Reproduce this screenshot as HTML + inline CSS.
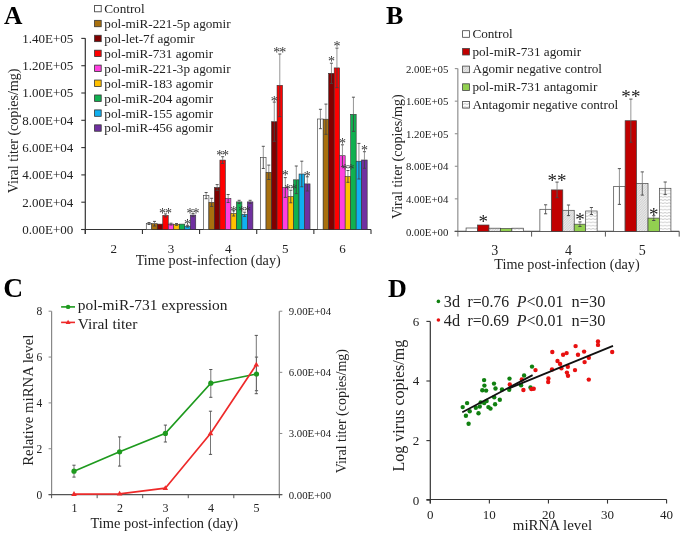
<!DOCTYPE html>
<html><head><meta charset="utf-8"><style>
html,body{margin:0;padding:0;background:#fff;}
svg{display:block;filter:blur(0.3px);}
text{font-family:"Liberation Serif", serif;}
</style></head><body>
<svg width="685" height="536" viewBox="0 0 685 536">
<rect width="685" height="536" fill="#fff"/>
<text x="4.0" y="24.4" font-size="25.5" text-anchor="start" font-weight="bold" fill="#000"  style="">A</text>
<line x1="85.3" y1="38.2" x2="85.3" y2="234.0" stroke="#333" stroke-width="1.2"/>
<line x1="81.3" y1="229.5" x2="85.3" y2="229.5" stroke="#333" stroke-width="1.1"/>
<text x="73.3" y="233.8" font-size="13" text-anchor="end" font-weight="normal" fill="#222"  style="">0.00E+00</text>
<line x1="81.3" y1="202.2" x2="85.3" y2="202.2" stroke="#333" stroke-width="1.1"/>
<text x="73.3" y="206.5" font-size="13" text-anchor="end" font-weight="normal" fill="#222"  style="">2.00E+04</text>
<line x1="81.3" y1="174.9" x2="85.3" y2="174.9" stroke="#333" stroke-width="1.1"/>
<text x="73.3" y="179.20000000000002" font-size="13" text-anchor="end" font-weight="normal" fill="#222"  style="">4.00E+04</text>
<line x1="81.3" y1="147.6" x2="85.3" y2="147.6" stroke="#333" stroke-width="1.1"/>
<text x="73.3" y="151.9" font-size="13" text-anchor="end" font-weight="normal" fill="#222"  style="">6.00E+04</text>
<line x1="81.3" y1="120.3" x2="85.3" y2="120.3" stroke="#333" stroke-width="1.1"/>
<text x="73.3" y="124.6" font-size="13" text-anchor="end" font-weight="normal" fill="#222"  style="">8.00E+04</text>
<line x1="81.3" y1="93.0" x2="85.3" y2="93.0" stroke="#333" stroke-width="1.1"/>
<text x="73.3" y="97.3" font-size="13" text-anchor="end" font-weight="normal" fill="#222"  style="">1.00E+05</text>
<line x1="81.3" y1="65.69999999999999" x2="85.3" y2="65.69999999999999" stroke="#333" stroke-width="1.1"/>
<text x="73.3" y="69.99999999999999" font-size="13" text-anchor="end" font-weight="normal" fill="#222"  style="">1.20E+05</text>
<line x1="81.3" y1="38.400000000000006" x2="85.3" y2="38.400000000000006" stroke="#333" stroke-width="1.1"/>
<text x="73.3" y="42.7" font-size="13" text-anchor="end" font-weight="normal" fill="#222"  style="">1.40E+05</text>
<line x1="81.3" y1="229.5" x2="371.0" y2="229.5" stroke="#333" stroke-width="1.2"/>
<line x1="85.3" y1="229.5" x2="85.3" y2="234.0" stroke="#333" stroke-width="1.1"/>
<line x1="142.44" y1="229.5" x2="142.44" y2="234.0" stroke="#333" stroke-width="1.1"/>
<line x1="199.57999999999998" y1="229.5" x2="199.57999999999998" y2="234.0" stroke="#333" stroke-width="1.1"/>
<line x1="256.72" y1="229.5" x2="256.72" y2="234.0" stroke="#333" stroke-width="1.1"/>
<line x1="313.86" y1="229.5" x2="313.86" y2="234.0" stroke="#333" stroke-width="1.1"/>
<line x1="371.0" y1="229.5" x2="371.0" y2="234.0" stroke="#333" stroke-width="1.1"/>
<text x="113.87" y="252.6" font-size="13" text-anchor="middle" font-weight="normal" fill="#222"  style="">2</text>
<text x="171.01" y="252.6" font-size="13" text-anchor="middle" font-weight="normal" fill="#222"  style="">3</text>
<text x="228.14999999999998" y="252.6" font-size="13" text-anchor="middle" font-weight="normal" fill="#222"  style="">4</text>
<text x="285.29" y="252.6" font-size="13" text-anchor="middle" font-weight="normal" fill="#222"  style="">5</text>
<text x="342.43" y="252.6" font-size="13" text-anchor="middle" font-weight="normal" fill="#222"  style="">6</text>
<text x="208.2" y="264.7" font-size="14.2" text-anchor="middle" font-weight="normal" fill="#222" textLength="145" lengthAdjust="spacingAndGlyphs"  style="">Time post-infection (day)</text>
<text x="0" y="0" font-size="14" text-anchor="middle" fill="#222" transform="translate(18.4,130.9) rotate(-90)" textLength="124.8" lengthAdjust="spacingAndGlyphs">Viral titer (copies/mg)</text>
<rect x="94.60" y="5.40" width="6.60" height="6.40" fill="#ffffff" stroke="#333" stroke-width="0.8"/>
<text x="104.3" y="13.0" font-size="13.2" text-anchor="start" font-weight="normal" fill="#222"  style="">Control</text>
<rect x="94.60" y="20.33" width="6.60" height="6.40" fill="#A8700E" stroke="#333" stroke-width="0.8"/>
<text x="104.3" y="27.93" font-size="13.2" text-anchor="start" font-weight="normal" fill="#222"  style="">pol-miR-221-5p agomir</text>
<rect x="94.60" y="35.26" width="6.60" height="6.40" fill="#800000" stroke="#333" stroke-width="0.8"/>
<text x="104.3" y="42.86" font-size="13.2" text-anchor="start" font-weight="normal" fill="#222"  style="">pol-let-7f agomir</text>
<rect x="94.60" y="50.19" width="6.60" height="6.40" fill="#FF0000" stroke="#333" stroke-width="0.8"/>
<text x="104.3" y="57.79" font-size="13.2" text-anchor="start" font-weight="normal" fill="#222"  style="">pol-miR-731 agomir</text>
<rect x="94.60" y="65.12" width="6.60" height="6.40" fill="#FF3FE0" stroke="#333" stroke-width="0.8"/>
<text x="104.3" y="72.72" font-size="13.2" text-anchor="start" font-weight="normal" fill="#222"  style="">pol-miR-221-3p agomir</text>
<rect x="94.60" y="80.05" width="6.60" height="6.40" fill="#FFC000" stroke="#333" stroke-width="0.8"/>
<text x="104.3" y="87.65" font-size="13.2" text-anchor="start" font-weight="normal" fill="#222"  style="">pol-miR-183 agomir</text>
<rect x="94.60" y="94.98" width="6.60" height="6.40" fill="#10B050" stroke="#333" stroke-width="0.8"/>
<text x="104.3" y="102.58" font-size="13.2" text-anchor="start" font-weight="normal" fill="#222"  style="">pol-miR-204 agomir</text>
<rect x="94.60" y="109.91" width="6.60" height="6.40" fill="#10B0F0" stroke="#333" stroke-width="0.8"/>
<text x="104.3" y="117.50999999999999" font-size="13.2" text-anchor="start" font-weight="normal" fill="#222"  style="">pol-miR-155 agomir</text>
<rect x="94.60" y="124.84" width="6.60" height="6.40" fill="#7030A0" stroke="#333" stroke-width="0.8"/>
<text x="104.3" y="132.44" font-size="13.2" text-anchor="start" font-weight="normal" fill="#222"  style="">pol-miR-456 agomir</text>
<rect x="146.26" y="223.50" width="5.50" height="6.00" fill="#ffffff" stroke="#333" stroke-width="0.6"/>
<rect x="151.76" y="223.70" width="5.50" height="5.80" fill="#A8700E" stroke="#333" stroke-width="0.6"/>
<rect x="157.26" y="224.10" width="5.50" height="5.40" fill="#800000" stroke="#333" stroke-width="0.6"/>
<rect x="162.76" y="215.40" width="5.50" height="14.10" fill="#FF0000" stroke="#333" stroke-width="0.6"/>
<rect x="168.26" y="224.10" width="5.50" height="5.40" fill="#FF3FE0" stroke="#333" stroke-width="0.6"/>
<rect x="173.76" y="224.40" width="5.50" height="5.10" fill="#FFC000" stroke="#333" stroke-width="0.6"/>
<rect x="179.26" y="224.10" width="5.50" height="5.40" fill="#10B050" stroke="#333" stroke-width="0.6"/>
<rect x="184.76" y="226.20" width="5.50" height="3.30" fill="#10B0F0" stroke="#333" stroke-width="0.6"/>
<rect x="190.26" y="215.10" width="5.50" height="14.40" fill="#7030A0" stroke="#333" stroke-width="0.6"/>
<line x1="149.01" y1="222.5" x2="149.01" y2="223.5" stroke="#8a8a8a" stroke-width="0.9"/>
<line x1="149.01" y1="223.5" x2="149.01" y2="224.5" stroke="#444" stroke-width="0.9"/>
<line x1="147.51" y1="222.5" x2="150.51" y2="222.5" stroke="#444" stroke-width="0.9"/>
<line x1="147.51" y1="224.5" x2="150.51" y2="224.5" stroke="#444" stroke-width="0.9"/>
<line x1="154.51" y1="221.4" x2="154.51" y2="223.7" stroke="#8a8a8a" stroke-width="0.9"/>
<line x1="154.51" y1="223.7" x2="154.51" y2="225.99999999999997" stroke="#444" stroke-width="0.9"/>
<line x1="153.01" y1="221.4" x2="156.01" y2="221.4" stroke="#444" stroke-width="0.9"/>
<line x1="153.01" y1="225.99999999999997" x2="156.01" y2="225.99999999999997" stroke="#444" stroke-width="0.9"/>
<line x1="165.51" y1="213.9" x2="165.51" y2="215.4" stroke="#8a8a8a" stroke-width="0.9"/>
<line x1="165.51" y1="215.4" x2="165.51" y2="216.9" stroke="#444" stroke-width="0.9"/>
<line x1="164.01" y1="213.9" x2="167.01" y2="213.9" stroke="#444" stroke-width="0.9"/>
<line x1="164.01" y1="216.9" x2="167.01" y2="216.9" stroke="#444" stroke-width="0.9"/>
<line x1="171.01" y1="223.2" x2="171.01" y2="224.1" stroke="#8a8a8a" stroke-width="0.9"/>
<line x1="171.01" y1="224.1" x2="171.01" y2="225.0" stroke="#444" stroke-width="0.9"/>
<line x1="169.51" y1="223.2" x2="172.51" y2="223.2" stroke="#444" stroke-width="0.9"/>
<line x1="169.51" y1="225.0" x2="172.51" y2="225.0" stroke="#444" stroke-width="0.9"/>
<line x1="176.51" y1="223.5" x2="176.51" y2="224.4" stroke="#8a8a8a" stroke-width="0.9"/>
<line x1="176.51" y1="224.4" x2="176.51" y2="225.3" stroke="#444" stroke-width="0.9"/>
<line x1="175.01" y1="223.5" x2="178.01" y2="223.5" stroke="#444" stroke-width="0.9"/>
<line x1="175.01" y1="225.3" x2="178.01" y2="225.3" stroke="#444" stroke-width="0.9"/>
<line x1="187.51" y1="225.3" x2="187.51" y2="226.2" stroke="#8a8a8a" stroke-width="0.9"/>
<line x1="187.51" y1="226.2" x2="187.51" y2="227.09999999999997" stroke="#444" stroke-width="0.9"/>
<line x1="186.01" y1="225.3" x2="189.01" y2="225.3" stroke="#444" stroke-width="0.9"/>
<line x1="186.01" y1="227.09999999999997" x2="189.01" y2="227.09999999999997" stroke="#444" stroke-width="0.9"/>
<line x1="193.01" y1="213.6" x2="193.01" y2="215.1" stroke="#8a8a8a" stroke-width="0.9"/>
<line x1="193.01" y1="215.1" x2="193.01" y2="216.6" stroke="#444" stroke-width="0.9"/>
<line x1="191.51" y1="213.6" x2="194.51" y2="213.6" stroke="#444" stroke-width="0.9"/>
<line x1="191.51" y1="216.6" x2="194.51" y2="216.6" stroke="#444" stroke-width="0.9"/>
<rect x="203.40" y="195.60" width="5.50" height="33.90" fill="#ffffff" stroke="#333" stroke-width="0.6"/>
<rect x="208.90" y="202.40" width="5.50" height="27.10" fill="#A8700E" stroke="#333" stroke-width="0.6"/>
<rect x="214.40" y="187.50" width="5.50" height="42.00" fill="#800000" stroke="#333" stroke-width="0.6"/>
<rect x="219.90" y="160.10" width="5.50" height="69.40" fill="#FF0000" stroke="#333" stroke-width="0.6"/>
<rect x="225.40" y="198.50" width="5.50" height="31.00" fill="#FF3FE0" stroke="#333" stroke-width="0.6"/>
<rect x="230.90" y="213.40" width="5.50" height="16.10" fill="#FFC000" stroke="#333" stroke-width="0.6"/>
<rect x="236.40" y="201.90" width="5.50" height="27.60" fill="#10B050" stroke="#333" stroke-width="0.6"/>
<rect x="241.90" y="214.30" width="5.50" height="15.20" fill="#10B0F0" stroke="#333" stroke-width="0.6"/>
<rect x="247.40" y="201.90" width="5.50" height="27.60" fill="#7030A0" stroke="#333" stroke-width="0.6"/>
<line x1="206.14999999999998" y1="192.5" x2="206.14999999999998" y2="195.6" stroke="#8a8a8a" stroke-width="0.9"/>
<line x1="206.14999999999998" y1="195.6" x2="206.14999999999998" y2="198.7" stroke="#444" stroke-width="0.9"/>
<line x1="204.64999999999998" y1="192.5" x2="207.64999999999998" y2="192.5" stroke="#444" stroke-width="0.9"/>
<line x1="204.64999999999998" y1="198.7" x2="207.64999999999998" y2="198.7" stroke="#444" stroke-width="0.9"/>
<line x1="211.64999999999998" y1="198.3" x2="211.64999999999998" y2="202.4" stroke="#8a8a8a" stroke-width="0.9"/>
<line x1="211.64999999999998" y1="202.4" x2="211.64999999999998" y2="206.5" stroke="#444" stroke-width="0.9"/>
<line x1="210.14999999999998" y1="198.3" x2="213.14999999999998" y2="198.3" stroke="#444" stroke-width="0.9"/>
<line x1="210.14999999999998" y1="206.5" x2="213.14999999999998" y2="206.5" stroke="#444" stroke-width="0.9"/>
<line x1="217.14999999999998" y1="184.6" x2="217.14999999999998" y2="187.5" stroke="#8a8a8a" stroke-width="0.9"/>
<line x1="217.14999999999998" y1="187.5" x2="217.14999999999998" y2="190.4" stroke="#444" stroke-width="0.9"/>
<line x1="215.64999999999998" y1="184.6" x2="218.64999999999998" y2="184.6" stroke="#444" stroke-width="0.9"/>
<line x1="215.64999999999998" y1="190.4" x2="218.64999999999998" y2="190.4" stroke="#444" stroke-width="0.9"/>
<line x1="222.64999999999998" y1="156.7" x2="222.64999999999998" y2="160.1" stroke="#8a8a8a" stroke-width="0.9"/>
<line x1="222.64999999999998" y1="160.1" x2="222.64999999999998" y2="163.5" stroke="#444" stroke-width="0.9"/>
<line x1="221.14999999999998" y1="156.7" x2="224.14999999999998" y2="156.7" stroke="#444" stroke-width="0.9"/>
<line x1="221.14999999999998" y1="163.5" x2="224.14999999999998" y2="163.5" stroke="#444" stroke-width="0.9"/>
<line x1="228.14999999999998" y1="194.5" x2="228.14999999999998" y2="198.5" stroke="#8a8a8a" stroke-width="0.9"/>
<line x1="228.14999999999998" y1="198.5" x2="228.14999999999998" y2="202.5" stroke="#444" stroke-width="0.9"/>
<line x1="226.64999999999998" y1="194.5" x2="229.64999999999998" y2="194.5" stroke="#444" stroke-width="0.9"/>
<line x1="226.64999999999998" y1="202.5" x2="229.64999999999998" y2="202.5" stroke="#444" stroke-width="0.9"/>
<line x1="233.64999999999998" y1="210.8" x2="233.64999999999998" y2="213.4" stroke="#8a8a8a" stroke-width="0.9"/>
<line x1="233.64999999999998" y1="213.4" x2="233.64999999999998" y2="216.0" stroke="#444" stroke-width="0.9"/>
<line x1="232.14999999999998" y1="210.8" x2="235.14999999999998" y2="210.8" stroke="#444" stroke-width="0.9"/>
<line x1="232.14999999999998" y1="216.0" x2="235.14999999999998" y2="216.0" stroke="#444" stroke-width="0.9"/>
<line x1="239.14999999999998" y1="200.3" x2="239.14999999999998" y2="201.9" stroke="#8a8a8a" stroke-width="0.9"/>
<line x1="239.14999999999998" y1="201.9" x2="239.14999999999998" y2="203.5" stroke="#444" stroke-width="0.9"/>
<line x1="237.64999999999998" y1="200.3" x2="240.64999999999998" y2="200.3" stroke="#444" stroke-width="0.9"/>
<line x1="237.64999999999998" y1="203.5" x2="240.64999999999998" y2="203.5" stroke="#444" stroke-width="0.9"/>
<line x1="244.64999999999998" y1="212.2" x2="244.64999999999998" y2="214.3" stroke="#8a8a8a" stroke-width="0.9"/>
<line x1="244.64999999999998" y1="214.3" x2="244.64999999999998" y2="216.40000000000003" stroke="#444" stroke-width="0.9"/>
<line x1="243.14999999999998" y1="212.2" x2="246.14999999999998" y2="212.2" stroke="#444" stroke-width="0.9"/>
<line x1="243.14999999999998" y1="216.40000000000003" x2="246.14999999999998" y2="216.40000000000003" stroke="#444" stroke-width="0.9"/>
<line x1="250.14999999999998" y1="200.3" x2="250.14999999999998" y2="201.9" stroke="#8a8a8a" stroke-width="0.9"/>
<line x1="250.14999999999998" y1="201.9" x2="250.14999999999998" y2="203.5" stroke="#444" stroke-width="0.9"/>
<line x1="248.64999999999998" y1="200.3" x2="251.64999999999998" y2="200.3" stroke="#444" stroke-width="0.9"/>
<line x1="248.64999999999998" y1="203.5" x2="251.64999999999998" y2="203.5" stroke="#444" stroke-width="0.9"/>
<rect x="260.54" y="157.40" width="5.50" height="72.10" fill="#ffffff" stroke="#333" stroke-width="0.6"/>
<rect x="266.04" y="172.30" width="5.50" height="57.20" fill="#A8700E" stroke="#333" stroke-width="0.6"/>
<rect x="271.54" y="121.70" width="5.50" height="107.80" fill="#800000" stroke="#333" stroke-width="0.6"/>
<rect x="277.04" y="85.30" width="5.50" height="144.20" fill="#FF0000" stroke="#333" stroke-width="0.6"/>
<rect x="282.54" y="187.50" width="5.50" height="42.00" fill="#FF3FE0" stroke="#333" stroke-width="0.6"/>
<rect x="288.04" y="196.50" width="5.50" height="33.00" fill="#FFC000" stroke="#333" stroke-width="0.6"/>
<rect x="293.54" y="179.80" width="5.50" height="49.70" fill="#10B050" stroke="#333" stroke-width="0.6"/>
<rect x="299.04" y="174.00" width="5.50" height="55.50" fill="#10B0F0" stroke="#333" stroke-width="0.6"/>
<rect x="304.54" y="183.90" width="5.50" height="45.60" fill="#7030A0" stroke="#333" stroke-width="0.6"/>
<line x1="263.29" y1="146.3" x2="263.29" y2="157.4" stroke="#8a8a8a" stroke-width="0.9"/>
<line x1="263.29" y1="157.4" x2="263.29" y2="168.5" stroke="#444" stroke-width="0.9"/>
<line x1="261.79" y1="146.3" x2="264.79" y2="146.3" stroke="#444" stroke-width="0.9"/>
<line x1="261.79" y1="168.5" x2="264.79" y2="168.5" stroke="#444" stroke-width="0.9"/>
<line x1="268.79" y1="165.1" x2="268.79" y2="172.3" stroke="#8a8a8a" stroke-width="0.9"/>
<line x1="268.79" y1="172.3" x2="268.79" y2="179.50000000000003" stroke="#444" stroke-width="0.9"/>
<line x1="267.29" y1="165.1" x2="270.29" y2="165.1" stroke="#444" stroke-width="0.9"/>
<line x1="267.29" y1="179.50000000000003" x2="270.29" y2="179.50000000000003" stroke="#444" stroke-width="0.9"/>
<line x1="274.29" y1="102.1" x2="274.29" y2="121.7" stroke="#8a8a8a" stroke-width="0.9"/>
<line x1="274.29" y1="121.7" x2="274.29" y2="141.3" stroke="#444" stroke-width="0.9"/>
<line x1="272.79" y1="102.1" x2="275.79" y2="102.1" stroke="#444" stroke-width="0.9"/>
<line x1="272.79" y1="141.3" x2="275.79" y2="141.3" stroke="#444" stroke-width="0.9"/>
<line x1="279.79" y1="54.0" x2="279.79" y2="85.3" stroke="#8a8a8a" stroke-width="0.9"/>
<line x1="279.79" y1="85.3" x2="279.79" y2="116.6" stroke="#444" stroke-width="0.9"/>
<line x1="278.29" y1="54.0" x2="281.29" y2="54.0" stroke="#444" stroke-width="0.9"/>
<line x1="278.29" y1="116.6" x2="281.29" y2="116.6" stroke="#444" stroke-width="0.9"/>
<line x1="285.29" y1="177.6" x2="285.29" y2="187.5" stroke="#8a8a8a" stroke-width="0.9"/>
<line x1="285.29" y1="187.5" x2="285.29" y2="197.4" stroke="#444" stroke-width="0.9"/>
<line x1="283.79" y1="177.6" x2="286.79" y2="177.6" stroke="#444" stroke-width="0.9"/>
<line x1="283.79" y1="197.4" x2="286.79" y2="197.4" stroke="#444" stroke-width="0.9"/>
<line x1="290.79" y1="190.2" x2="290.79" y2="196.5" stroke="#8a8a8a" stroke-width="0.9"/>
<line x1="290.79" y1="196.5" x2="290.79" y2="202.8" stroke="#444" stroke-width="0.9"/>
<line x1="289.29" y1="190.2" x2="292.29" y2="190.2" stroke="#444" stroke-width="0.9"/>
<line x1="289.29" y1="202.8" x2="292.29" y2="202.8" stroke="#444" stroke-width="0.9"/>
<line x1="296.29" y1="166.0" x2="296.29" y2="179.8" stroke="#8a8a8a" stroke-width="0.9"/>
<line x1="296.29" y1="179.8" x2="296.29" y2="193.60000000000002" stroke="#444" stroke-width="0.9"/>
<line x1="294.79" y1="166.0" x2="297.79" y2="166.0" stroke="#444" stroke-width="0.9"/>
<line x1="294.79" y1="193.60000000000002" x2="297.79" y2="193.60000000000002" stroke="#444" stroke-width="0.9"/>
<line x1="301.79" y1="161.2" x2="301.79" y2="174.0" stroke="#8a8a8a" stroke-width="0.9"/>
<line x1="301.79" y1="174.0" x2="301.79" y2="186.8" stroke="#444" stroke-width="0.9"/>
<line x1="300.29" y1="161.2" x2="303.29" y2="161.2" stroke="#444" stroke-width="0.9"/>
<line x1="300.29" y1="186.8" x2="303.29" y2="186.8" stroke="#444" stroke-width="0.9"/>
<line x1="307.29" y1="176.8" x2="307.29" y2="183.9" stroke="#8a8a8a" stroke-width="0.9"/>
<line x1="307.29" y1="183.9" x2="307.29" y2="191.0" stroke="#444" stroke-width="0.9"/>
<line x1="305.79" y1="176.8" x2="308.79" y2="176.8" stroke="#444" stroke-width="0.9"/>
<line x1="305.79" y1="191.0" x2="308.79" y2="191.0" stroke="#444" stroke-width="0.9"/>
<rect x="317.68" y="119.00" width="5.50" height="110.50" fill="#ffffff" stroke="#333" stroke-width="0.6"/>
<rect x="323.18" y="119.20" width="5.50" height="110.30" fill="#A8700E" stroke="#333" stroke-width="0.6"/>
<rect x="328.68" y="73.30" width="5.50" height="156.20" fill="#800000" stroke="#333" stroke-width="0.6"/>
<rect x="334.18" y="67.90" width="5.50" height="161.60" fill="#FF0000" stroke="#333" stroke-width="0.6"/>
<rect x="339.68" y="155.70" width="5.50" height="73.80" fill="#FF3FE0" stroke="#333" stroke-width="0.6"/>
<rect x="345.18" y="176.40" width="5.50" height="53.10" fill="#FFC000" stroke="#333" stroke-width="0.6"/>
<rect x="350.68" y="114.30" width="5.50" height="115.20" fill="#10B050" stroke="#333" stroke-width="0.6"/>
<rect x="356.18" y="161.20" width="5.50" height="68.30" fill="#10B0F0" stroke="#333" stroke-width="0.6"/>
<rect x="361.68" y="160.00" width="5.50" height="69.50" fill="#7030A0" stroke="#333" stroke-width="0.6"/>
<line x1="320.43" y1="109.3" x2="320.43" y2="119.0" stroke="#8a8a8a" stroke-width="0.9"/>
<line x1="320.43" y1="119.0" x2="320.43" y2="128.7" stroke="#444" stroke-width="0.9"/>
<line x1="318.93" y1="109.3" x2="321.93" y2="109.3" stroke="#444" stroke-width="0.9"/>
<line x1="318.93" y1="128.7" x2="321.93" y2="128.7" stroke="#444" stroke-width="0.9"/>
<line x1="325.93" y1="104.1" x2="325.93" y2="119.2" stroke="#8a8a8a" stroke-width="0.9"/>
<line x1="325.93" y1="119.2" x2="325.93" y2="134.3" stroke="#444" stroke-width="0.9"/>
<line x1="324.43" y1="104.1" x2="327.43" y2="104.1" stroke="#444" stroke-width="0.9"/>
<line x1="324.43" y1="134.3" x2="327.43" y2="134.3" stroke="#444" stroke-width="0.9"/>
<line x1="331.43" y1="63.2" x2="331.43" y2="73.3" stroke="#8a8a8a" stroke-width="0.9"/>
<line x1="331.43" y1="73.3" x2="331.43" y2="83.39999999999999" stroke="#444" stroke-width="0.9"/>
<line x1="329.93" y1="63.2" x2="332.93" y2="63.2" stroke="#444" stroke-width="0.9"/>
<line x1="329.93" y1="83.39999999999999" x2="332.93" y2="83.39999999999999" stroke="#444" stroke-width="0.9"/>
<line x1="336.93" y1="48.1" x2="336.93" y2="67.9" stroke="#8a8a8a" stroke-width="0.9"/>
<line x1="336.93" y1="67.9" x2="336.93" y2="87.70000000000002" stroke="#444" stroke-width="0.9"/>
<line x1="335.43" y1="48.1" x2="338.43" y2="48.1" stroke="#444" stroke-width="0.9"/>
<line x1="335.43" y1="87.70000000000002" x2="338.43" y2="87.70000000000002" stroke="#444" stroke-width="0.9"/>
<line x1="342.43" y1="144.8" x2="342.43" y2="155.7" stroke="#8a8a8a" stroke-width="0.9"/>
<line x1="342.43" y1="155.7" x2="342.43" y2="166.59999999999997" stroke="#444" stroke-width="0.9"/>
<line x1="340.93" y1="144.8" x2="343.93" y2="144.8" stroke="#444" stroke-width="0.9"/>
<line x1="340.93" y1="166.59999999999997" x2="343.93" y2="166.59999999999997" stroke="#444" stroke-width="0.9"/>
<line x1="347.93" y1="170.5" x2="347.93" y2="176.4" stroke="#8a8a8a" stroke-width="0.9"/>
<line x1="347.93" y1="176.4" x2="347.93" y2="182.3" stroke="#444" stroke-width="0.9"/>
<line x1="346.43" y1="170.5" x2="349.43" y2="170.5" stroke="#444" stroke-width="0.9"/>
<line x1="346.43" y1="182.3" x2="349.43" y2="182.3" stroke="#444" stroke-width="0.9"/>
<line x1="353.43" y1="97.2" x2="353.43" y2="114.3" stroke="#8a8a8a" stroke-width="0.9"/>
<line x1="353.43" y1="114.3" x2="353.43" y2="131.39999999999998" stroke="#444" stroke-width="0.9"/>
<line x1="351.93" y1="97.2" x2="354.93" y2="97.2" stroke="#444" stroke-width="0.9"/>
<line x1="351.93" y1="131.39999999999998" x2="354.93" y2="131.39999999999998" stroke="#444" stroke-width="0.9"/>
<line x1="358.93" y1="143.4" x2="358.93" y2="161.2" stroke="#8a8a8a" stroke-width="0.9"/>
<line x1="358.93" y1="161.2" x2="358.93" y2="178.99999999999997" stroke="#444" stroke-width="0.9"/>
<line x1="357.43" y1="143.4" x2="360.43" y2="143.4" stroke="#444" stroke-width="0.9"/>
<line x1="357.43" y1="178.99999999999997" x2="360.43" y2="178.99999999999997" stroke="#444" stroke-width="0.9"/>
<line x1="364.43" y1="151.7" x2="364.43" y2="160.0" stroke="#8a8a8a" stroke-width="0.9"/>
<line x1="364.43" y1="160.0" x2="364.43" y2="168.3" stroke="#444" stroke-width="0.9"/>
<line x1="362.93" y1="151.7" x2="365.93" y2="151.7" stroke="#444" stroke-width="0.9"/>
<line x1="362.93" y1="168.3" x2="365.93" y2="168.3" stroke="#444" stroke-width="0.9"/>
<text x="162.56" y="217.8" font-size="14" text-anchor="middle" font-weight="normal" fill="#333"  style="">*</text>
<text x="168.45999999999998" y="217.8" font-size="14" text-anchor="middle" font-weight="normal" fill="#333"  style="">*</text>
<text x="187.51" y="228.5" font-size="14" text-anchor="middle" font-weight="normal" fill="#333"  style="">*</text>
<text x="190.06" y="217.5" font-size="14" text-anchor="middle" font-weight="normal" fill="#333"  style="">*</text>
<text x="195.95999999999998" y="217.5" font-size="14" text-anchor="middle" font-weight="normal" fill="#333"  style="">*</text>
<text x="219.7" y="160.0" font-size="14" text-anchor="middle" font-weight="normal" fill="#333"  style="">*</text>
<text x="225.59999999999997" y="160.0" font-size="14" text-anchor="middle" font-weight="normal" fill="#333"  style="">*</text>
<text x="233.64999999999998" y="215.6" font-size="14" text-anchor="middle" font-weight="normal" fill="#333"  style="">*</text>
<text x="241.7" y="216.3" font-size="14" text-anchor="middle" font-weight="normal" fill="#333"  style="">*</text>
<text x="247.59999999999997" y="216.3" font-size="14" text-anchor="middle" font-weight="normal" fill="#333"  style="">*</text>
<text x="274.29" y="106.4" font-size="14" text-anchor="middle" font-weight="normal" fill="#333"  style="">*</text>
<text x="276.84000000000003" y="57.2" font-size="14" text-anchor="middle" font-weight="normal" fill="#333"  style="">*</text>
<text x="282.74" y="57.2" font-size="14" text-anchor="middle" font-weight="normal" fill="#333"  style="">*</text>
<text x="285.29" y="180.0" font-size="14" text-anchor="middle" font-weight="normal" fill="#333"  style="">*</text>
<text x="287.84000000000003" y="193.7" font-size="14" text-anchor="middle" font-weight="normal" fill="#333"  style="">*</text>
<text x="293.74" y="193.7" font-size="14" text-anchor="middle" font-weight="normal" fill="#333"  style="">*</text>
<text x="307.29" y="180.6" font-size="14" text-anchor="middle" font-weight="normal" fill="#333"  style="">*</text>
<text x="331.43" y="65.9" font-size="14" text-anchor="middle" font-weight="normal" fill="#333"  style="">*</text>
<text x="336.93" y="51.2" font-size="14" text-anchor="middle" font-weight="normal" fill="#333"  style="">*</text>
<text x="342.43" y="148.3" font-size="14" text-anchor="middle" font-weight="normal" fill="#333"  style="">*</text>
<text x="344.98" y="173.5" font-size="14" text-anchor="middle" font-weight="normal" fill="#333"  style="">*</text>
<text x="350.88" y="173.5" font-size="14" text-anchor="middle" font-weight="normal" fill="#333"  style="">*</text>
<text x="364.43" y="154.8" font-size="14" text-anchor="middle" font-weight="normal" fill="#333"  style="">*</text>
<text x="386.0" y="23.8" font-size="26" text-anchor="start" font-weight="bold" fill="#000"  style="">B</text>
<line x1="457.8" y1="68.5" x2="457.8" y2="236.6" stroke="#A0A0A0" stroke-width="1.4"/>
<line x1="454.8" y1="231.4" x2="457.8" y2="231.4" stroke="#909090" stroke-width="1.1"/>
<text x="448.3" y="235.6" font-size="10.8" text-anchor="end" font-weight="normal" fill="#222"  style="">0.00E+00</text>
<line x1="454.8" y1="198.84" x2="457.8" y2="198.84" stroke="#909090" stroke-width="1.1"/>
<text x="448.3" y="203.04" font-size="10.8" text-anchor="end" font-weight="normal" fill="#222"  style="">4.00E+04</text>
<line x1="454.8" y1="166.28" x2="457.8" y2="166.28" stroke="#909090" stroke-width="1.1"/>
<text x="448.3" y="170.48" font-size="10.8" text-anchor="end" font-weight="normal" fill="#222"  style="">8.00E+04</text>
<line x1="454.8" y1="133.72" x2="457.8" y2="133.72" stroke="#909090" stroke-width="1.1"/>
<text x="448.3" y="137.92" font-size="10.8" text-anchor="end" font-weight="normal" fill="#222"  style="">1.20E+05</text>
<line x1="454.8" y1="101.16" x2="457.8" y2="101.16" stroke="#909090" stroke-width="1.1"/>
<text x="448.3" y="105.36" font-size="10.8" text-anchor="end" font-weight="normal" fill="#222"  style="">1.60E+05</text>
<line x1="454.8" y1="68.6" x2="457.8" y2="68.6" stroke="#909090" stroke-width="1.1"/>
<text x="448.3" y="72.8" font-size="10.8" text-anchor="end" font-weight="normal" fill="#222"  style="">2.00E+05</text>
<line x1="454.6" y1="231.4" x2="679.3" y2="231.4" stroke="#555" stroke-width="1.1"/>
<line x1="531.6" y1="231.4" x2="531.6" y2="236.6" stroke="#555" stroke-width="1.0"/>
<line x1="605.4" y1="231.4" x2="605.4" y2="236.6" stroke="#555" stroke-width="1.0"/>
<line x1="679.2" y1="231.4" x2="679.2" y2="236.6" stroke="#555" stroke-width="1.0"/>
<text x="494.7" y="254.5" font-size="14" text-anchor="middle" font-weight="normal" fill="#222"  style="">3</text>
<text x="568.5" y="254.5" font-size="14" text-anchor="middle" font-weight="normal" fill="#222"  style="">4</text>
<text x="642.3" y="254.5" font-size="14" text-anchor="middle" font-weight="normal" fill="#222"  style="">5</text>
<text x="567.0" y="269.0" font-size="14.2" text-anchor="middle" font-weight="normal" fill="#222" textLength="145.3" lengthAdjust="spacingAndGlyphs"  style="">Time post-infection (day)</text>
<text x="0" y="0" font-size="14" text-anchor="middle" fill="#222" transform="translate(402.0,156.7) rotate(-90)" textLength="124.8" lengthAdjust="spacingAndGlyphs">Viral titer (copies/mg)</text>
<defs>
<pattern id="dots" width="2.5" height="2.5" patternUnits="userSpaceOnUse"><rect width="2.5" height="2.5" fill="#E8E8E8"/><path d="M0,2.5 L2.5,0" stroke="#C4C4C4" stroke-width="0.7"/></pattern>
<pattern id="hstripe" width="4" height="3.2" patternUnits="userSpaceOnUse"><rect width="4" height="3.2" fill="#FFFFFF"/><path d="M0,1.6 Q1,0.9 2,1.6 T4,1.6" fill="none" stroke="#B8B8B8" stroke-width="0.8"/></pattern>
</defs>
<rect x="462.60" y="30.70" width="6.90" height="6.60" fill="#FFFFFF" stroke="#444" stroke-width="0.8"/>
<text x="472.4" y="38.0" font-size="13.2" text-anchor="start" font-weight="normal" fill="#222"  style="">Control</text>
<rect x="462.60" y="48.40" width="6.90" height="6.60" fill="#C00000" stroke="#444" stroke-width="0.8"/>
<text x="472.4" y="55.7" font-size="13.2" text-anchor="start" font-weight="normal" fill="#222"  style="">pol-miR-731 agomir</text>
<rect x="462.60" y="66.10" width="6.90" height="6.60" fill="url(#dots)" stroke="#444" stroke-width="0.8"/>
<text x="472.4" y="73.4" font-size="13.2" text-anchor="start" font-weight="normal" fill="#222"  style="">Agomir negative control</text>
<rect x="462.60" y="83.80" width="6.90" height="6.60" fill="#92D050" stroke="#444" stroke-width="0.8"/>
<text x="472.4" y="91.1" font-size="13.2" text-anchor="start" font-weight="normal" fill="#222"  style="">pol-miR-731 antagomir</text>
<rect x="462.60" y="101.50" width="6.90" height="6.60" fill="url(#hstripe)" stroke="#444" stroke-width="0.8"/>
<text x="472.4" y="108.8" font-size="13.2" text-anchor="start" font-weight="normal" fill="#222"  style="">Antagomir negative control</text>
<rect x="466.07" y="228.00" width="11.45" height="3.40" fill="#FFFFFF" stroke="#444" stroke-width="0.7"/>
<rect x="477.52" y="225.00" width="11.45" height="6.40" fill="#C00000" stroke="#444" stroke-width="0.7"/>
<rect x="488.97" y="228.20" width="11.45" height="3.20" fill="url(#dots)" stroke="#444" stroke-width="0.7"/>
<rect x="500.42" y="228.50" width="11.45" height="2.90" fill="#92D050" stroke="#444" stroke-width="0.7"/>
<rect x="511.88" y="228.20" width="11.45" height="3.20" fill="url(#hstripe)" stroke="#444" stroke-width="0.7"/>
<rect x="539.88" y="209.30" width="11.45" height="22.10" fill="#FFFFFF" stroke="#444" stroke-width="0.7"/>
<rect x="551.33" y="189.90" width="11.45" height="41.50" fill="#C00000" stroke="#444" stroke-width="0.7"/>
<rect x="562.77" y="210.30" width="11.45" height="21.10" fill="url(#dots)" stroke="#444" stroke-width="0.7"/>
<rect x="574.23" y="224.20" width="11.45" height="7.20" fill="#92D050" stroke="#444" stroke-width="0.7"/>
<rect x="585.67" y="211.00" width="11.45" height="20.40" fill="url(#hstripe)" stroke="#444" stroke-width="0.7"/>
<line x1="545.6" y1="204.8" x2="545.6" y2="209.3" stroke="#8a8a8a" stroke-width="0.9"/>
<line x1="545.6" y1="209.3" x2="545.6" y2="213.8" stroke="#555" stroke-width="0.9"/>
<line x1="544.0" y1="204.8" x2="547.2" y2="204.8" stroke="#444" stroke-width="0.9"/>
<line x1="544.0" y1="213.8" x2="547.2" y2="213.8" stroke="#444" stroke-width="0.9"/>
<line x1="557.0500000000001" y1="182.1" x2="557.0500000000001" y2="189.9" stroke="#8a8a8a" stroke-width="0.9"/>
<line x1="557.0500000000001" y1="189.9" x2="557.0500000000001" y2="197.70000000000002" stroke="#555" stroke-width="0.9"/>
<line x1="555.45" y1="182.1" x2="558.6500000000001" y2="182.1" stroke="#444" stroke-width="0.9"/>
<line x1="555.45" y1="197.70000000000002" x2="558.6500000000001" y2="197.70000000000002" stroke="#444" stroke-width="0.9"/>
<line x1="568.5" y1="205.0" x2="568.5" y2="210.3" stroke="#8a8a8a" stroke-width="0.9"/>
<line x1="568.5" y1="210.3" x2="568.5" y2="215.60000000000002" stroke="#555" stroke-width="0.9"/>
<line x1="566.9" y1="205.0" x2="570.1" y2="205.0" stroke="#444" stroke-width="0.9"/>
<line x1="566.9" y1="215.60000000000002" x2="570.1" y2="215.60000000000002" stroke="#444" stroke-width="0.9"/>
<line x1="579.95" y1="221.9" x2="579.95" y2="224.2" stroke="#8a8a8a" stroke-width="0.9"/>
<line x1="579.95" y1="224.2" x2="579.95" y2="226.49999999999997" stroke="#555" stroke-width="0.9"/>
<line x1="578.35" y1="221.9" x2="581.5500000000001" y2="221.9" stroke="#444" stroke-width="0.9"/>
<line x1="578.35" y1="226.49999999999997" x2="581.5500000000001" y2="226.49999999999997" stroke="#444" stroke-width="0.9"/>
<line x1="591.4" y1="207.5" x2="591.4" y2="211.0" stroke="#8a8a8a" stroke-width="0.9"/>
<line x1="591.4" y1="211.0" x2="591.4" y2="214.5" stroke="#555" stroke-width="0.9"/>
<line x1="589.8" y1="207.5" x2="593.0" y2="207.5" stroke="#444" stroke-width="0.9"/>
<line x1="589.8" y1="214.5" x2="593.0" y2="214.5" stroke="#444" stroke-width="0.9"/>
<rect x="613.67" y="186.50" width="11.45" height="44.90" fill="#FFFFFF" stroke="#444" stroke-width="0.7"/>
<rect x="625.12" y="120.70" width="11.45" height="110.70" fill="#C00000" stroke="#444" stroke-width="0.7"/>
<rect x="636.57" y="183.50" width="11.45" height="47.90" fill="url(#dots)" stroke="#444" stroke-width="0.7"/>
<rect x="648.02" y="218.10" width="11.45" height="13.30" fill="#92D050" stroke="#444" stroke-width="0.7"/>
<rect x="659.47" y="188.30" width="11.45" height="43.10" fill="url(#hstripe)" stroke="#444" stroke-width="0.7"/>
<line x1="619.4" y1="168.6" x2="619.4" y2="186.5" stroke="#8a8a8a" stroke-width="0.9"/>
<line x1="619.4" y1="186.5" x2="619.4" y2="204.4" stroke="#555" stroke-width="0.9"/>
<line x1="617.8" y1="168.6" x2="621.0" y2="168.6" stroke="#444" stroke-width="0.9"/>
<line x1="617.8" y1="204.4" x2="621.0" y2="204.4" stroke="#444" stroke-width="0.9"/>
<line x1="630.85" y1="99.1" x2="630.85" y2="120.7" stroke="#8a8a8a" stroke-width="0.9"/>
<line x1="630.85" y1="120.7" x2="630.85" y2="142.3" stroke="#555" stroke-width="0.9"/>
<line x1="629.25" y1="99.1" x2="632.45" y2="99.1" stroke="#444" stroke-width="0.9"/>
<line x1="629.25" y1="142.3" x2="632.45" y2="142.3" stroke="#444" stroke-width="0.9"/>
<line x1="642.3" y1="171.9" x2="642.3" y2="183.5" stroke="#8a8a8a" stroke-width="0.9"/>
<line x1="642.3" y1="183.5" x2="642.3" y2="195.1" stroke="#555" stroke-width="0.9"/>
<line x1="640.6999999999999" y1="171.9" x2="643.9" y2="171.9" stroke="#444" stroke-width="0.9"/>
<line x1="640.6999999999999" y1="195.1" x2="643.9" y2="195.1" stroke="#444" stroke-width="0.9"/>
<line x1="653.75" y1="215.7" x2="653.75" y2="218.1" stroke="#8a8a8a" stroke-width="0.9"/>
<line x1="653.75" y1="218.1" x2="653.75" y2="220.5" stroke="#555" stroke-width="0.9"/>
<line x1="652.15" y1="215.7" x2="655.35" y2="215.7" stroke="#444" stroke-width="0.9"/>
<line x1="652.15" y1="220.5" x2="655.35" y2="220.5" stroke="#444" stroke-width="0.9"/>
<line x1="665.1999999999999" y1="182.0" x2="665.1999999999999" y2="188.3" stroke="#8a8a8a" stroke-width="0.9"/>
<line x1="665.1999999999999" y1="188.3" x2="665.1999999999999" y2="194.60000000000002" stroke="#555" stroke-width="0.9"/>
<line x1="663.5999999999999" y1="182.0" x2="666.8" y2="182.0" stroke="#444" stroke-width="0.9"/>
<line x1="663.5999999999999" y1="194.60000000000002" x2="666.8" y2="194.60000000000002" stroke="#444" stroke-width="0.9"/>
<text x="483.25" y="228.4" font-size="19" text-anchor="middle" font-weight="normal" fill="#222"  style="">*</text>
<text x="552.2500000000001" y="186.9" font-size="19" text-anchor="middle" font-weight="normal" fill="#222"  style="">*</text>
<text x="561.85" y="186.9" font-size="19" text-anchor="middle" font-weight="normal" fill="#222"  style="">*</text>
<text x="579.95" y="226.1" font-size="19" text-anchor="middle" font-weight="normal" fill="#222"  style="">*</text>
<text x="626.0500000000001" y="103.4" font-size="19" text-anchor="middle" font-weight="normal" fill="#222"  style="">*</text>
<text x="635.65" y="103.4" font-size="19" text-anchor="middle" font-weight="normal" fill="#222"  style="">*</text>
<text x="653.75" y="221.2" font-size="19" text-anchor="middle" font-weight="normal" fill="#222"  style="">*</text>
<text x="3.2" y="296.6" font-size="27.5" text-anchor="start" font-weight="bold" fill="#000"  style="">C</text>
<line x1="51.6" y1="311.2" x2="51.6" y2="494.6" stroke="#888" stroke-width="1.2"/>
<line x1="48.6" y1="494.6" x2="51.6" y2="494.6" stroke="#888" stroke-width="1.0"/>
<text x="42.2" y="498.6" font-size="11.5" text-anchor="end" font-weight="normal" fill="#222"  style="">0</text>
<line x1="48.6" y1="448.75" x2="51.6" y2="448.75" stroke="#888" stroke-width="1.0"/>
<text x="42.2" y="452.75" font-size="11.5" text-anchor="end" font-weight="normal" fill="#222"  style="">2</text>
<line x1="48.6" y1="402.90000000000003" x2="51.6" y2="402.90000000000003" stroke="#888" stroke-width="1.0"/>
<text x="42.2" y="406.90000000000003" font-size="11.5" text-anchor="end" font-weight="normal" fill="#222"  style="">4</text>
<line x1="48.6" y1="357.05" x2="51.6" y2="357.05" stroke="#888" stroke-width="1.0"/>
<text x="42.2" y="361.05" font-size="11.5" text-anchor="end" font-weight="normal" fill="#222"  style="">6</text>
<line x1="48.6" y1="311.20000000000005" x2="51.6" y2="311.20000000000005" stroke="#888" stroke-width="1.0"/>
<text x="42.2" y="315.20000000000005" font-size="11.5" text-anchor="end" font-weight="normal" fill="#222"  style="">8</text>
<line x1="279.3" y1="311.2" x2="279.3" y2="494.6" stroke="#888" stroke-width="1.2"/>
<line x1="279.3" y1="494.6" x2="282.3" y2="494.6" stroke="#888" stroke-width="1.0"/>
<text x="288.7" y="498.5" font-size="10.8" text-anchor="start" font-weight="normal" fill="#222"  style="">0.00E+00</text>
<line x1="279.3" y1="433.47" x2="282.3" y2="433.47" stroke="#888" stroke-width="1.0"/>
<text x="288.7" y="437.37" font-size="10.8" text-anchor="start" font-weight="normal" fill="#222"  style="">3.00E+04</text>
<line x1="279.3" y1="372.34000000000003" x2="282.3" y2="372.34000000000003" stroke="#888" stroke-width="1.0"/>
<text x="288.7" y="376.24" font-size="10.8" text-anchor="start" font-weight="normal" fill="#222"  style="">6.00E+04</text>
<line x1="279.3" y1="311.21000000000004" x2="282.3" y2="311.21000000000004" stroke="#888" stroke-width="1.0"/>
<text x="288.7" y="315.11" font-size="10.8" text-anchor="start" font-weight="normal" fill="#222"  style="">9.00E+04</text>
<line x1="48.6" y1="494.6" x2="282.3" y2="494.6" stroke="#555" stroke-width="1.1"/>
<line x1="51.6" y1="494.6" x2="51.6" y2="498.2" stroke="#555" stroke-width="1.0"/>
<line x1="97.15" y1="494.6" x2="97.15" y2="498.2" stroke="#555" stroke-width="1.0"/>
<line x1="142.7" y1="494.6" x2="142.7" y2="498.2" stroke="#555" stroke-width="1.0"/>
<line x1="188.24999999999997" y1="494.6" x2="188.24999999999997" y2="498.2" stroke="#555" stroke-width="1.0"/>
<line x1="233.79999999999998" y1="494.6" x2="233.79999999999998" y2="498.2" stroke="#555" stroke-width="1.0"/>
<line x1="279.35" y1="494.6" x2="279.35" y2="498.2" stroke="#555" stroke-width="1.0"/>
<text x="74.375" y="511.9" font-size="12" text-anchor="middle" font-weight="normal" fill="#222"  style="">1</text>
<text x="119.92500000000001" y="511.9" font-size="12" text-anchor="middle" font-weight="normal" fill="#222"  style="">2</text>
<text x="165.475" y="511.9" font-size="12" text-anchor="middle" font-weight="normal" fill="#222"  style="">3</text>
<text x="211.02499999999998" y="511.9" font-size="12" text-anchor="middle" font-weight="normal" fill="#222"  style="">4</text>
<text x="256.575" y="511.9" font-size="12" text-anchor="middle" font-weight="normal" fill="#222"  style="">5</text>
<text x="164.3" y="528.4" font-size="14.4" text-anchor="middle" font-weight="normal" fill="#222" textLength="147.6" lengthAdjust="spacingAndGlyphs"  style="">Time post-infection (day)</text>
<text x="0" y="0" font-size="15.5" text-anchor="middle" fill="#222" transform="translate(33.4,400.2) rotate(-90)" textLength="131.1" lengthAdjust="spacingAndGlyphs">Relative miRNA level</text>
<text x="0" y="0" font-size="14" text-anchor="middle" fill="#222" transform="translate(346.3,411.2) rotate(-90)" textLength="124.3" lengthAdjust="spacingAndGlyphs">Viral titer (copies/mg)</text>
<line x1="61.1" y1="306.9" x2="75.0" y2="306.9" stroke="#1E9A1E" stroke-width="1.6"/>
<circle cx="68.1" cy="306.9" r="2.2" fill="#1E9A1E"/>
<text x="77.7" y="310.3" font-size="15.5" text-anchor="start" font-weight="normal" fill="#222" textLength="149.8" lengthAdjust="spacingAndGlyphs"  style="">pol-miR-731 expression</text>
<line x1="61.1" y1="322.4" x2="75.0" y2="322.4" stroke="#EE2A2A" stroke-width="1.6"/>
<path d="M68.1,319.8 L70.6,324.0 L65.6,324.0 Z" fill="#EE2A2A"/>
<text x="77.7" y="328.6" font-size="15.5" text-anchor="start" font-weight="normal" fill="#222" textLength="59.7" lengthAdjust="spacingAndGlyphs"  style="">Viral titer</text>
<line x1="74.0" y1="465.2" x2="74.0" y2="477.1" stroke="#666" stroke-width="0.9"/>
<line x1="72.4" y1="465.2" x2="75.6" y2="465.2" stroke="#444" stroke-width="0.9"/>
<line x1="72.4" y1="477.1" x2="75.6" y2="477.1" stroke="#444" stroke-width="0.9"/>
<line x1="119.6" y1="436.9" x2="119.6" y2="466.1" stroke="#666" stroke-width="0.9"/>
<line x1="118.0" y1="436.9" x2="121.19999999999999" y2="436.9" stroke="#444" stroke-width="0.9"/>
<line x1="118.0" y1="466.1" x2="121.19999999999999" y2="466.1" stroke="#444" stroke-width="0.9"/>
<line x1="165.4" y1="425.1" x2="165.4" y2="442.0" stroke="#666" stroke-width="0.9"/>
<line x1="163.8" y1="425.1" x2="167.0" y2="425.1" stroke="#444" stroke-width="0.9"/>
<line x1="163.8" y1="442.0" x2="167.0" y2="442.0" stroke="#444" stroke-width="0.9"/>
<line x1="210.8" y1="369.5" x2="210.8" y2="397.3" stroke="#666" stroke-width="0.9"/>
<line x1="209.20000000000002" y1="369.5" x2="212.4" y2="369.5" stroke="#444" stroke-width="0.9"/>
<line x1="209.20000000000002" y1="397.3" x2="212.4" y2="397.3" stroke="#444" stroke-width="0.9"/>
<line x1="256.5" y1="357.1" x2="256.5" y2="390.7" stroke="#666" stroke-width="0.9"/>
<line x1="254.9" y1="357.1" x2="258.1" y2="357.1" stroke="#444" stroke-width="0.9"/>
<line x1="254.9" y1="390.7" x2="258.1" y2="390.7" stroke="#444" stroke-width="0.9"/>
<line x1="210.5" y1="411.2" x2="210.5" y2="454.4" stroke="#666" stroke-width="0.9"/>
<line x1="208.9" y1="411.2" x2="212.1" y2="411.2" stroke="#444" stroke-width="0.9"/>
<line x1="208.9" y1="454.4" x2="212.1" y2="454.4" stroke="#444" stroke-width="0.9"/>
<line x1="256.3" y1="335.4" x2="256.3" y2="393.7" stroke="#666" stroke-width="0.9"/>
<line x1="254.70000000000002" y1="335.4" x2="257.90000000000003" y2="335.4" stroke="#444" stroke-width="0.9"/>
<line x1="254.70000000000002" y1="393.7" x2="257.90000000000003" y2="393.7" stroke="#444" stroke-width="0.9"/>
<polyline points="74.0,471.2 119.6,451.8 165.4,433.4 210.8,383.2 256.5,374.0" fill="none" stroke="#1E9A1E" stroke-width="1.7"/>
<polyline points="74.0,494.1 119.6,493.8 165.3,488.2 210.5,433.5 256.3,364.8" fill="none" stroke="#EE2A2A" stroke-width="1.7"/>
<circle cx="74.0" cy="471.2" r="2.6" fill="#1E9A1E"/>
<circle cx="119.6" cy="451.8" r="2.6" fill="#1E9A1E"/>
<circle cx="165.4" cy="433.4" r="2.6" fill="#1E9A1E"/>
<circle cx="210.8" cy="383.2" r="2.6" fill="#1E9A1E"/>
<circle cx="256.5" cy="374.0" r="2.6" fill="#1E9A1E"/>
<path d="M74.0,491.1 L76.8,495.90000000000003 L71.2,495.90000000000003 Z" fill="#EE2A2A"/>
<path d="M119.6,490.8 L122.39999999999999,495.6 L116.8,495.6 Z" fill="#EE2A2A"/>
<path d="M165.3,485.2 L168.10000000000002,490.0 L162.5,490.0 Z" fill="#EE2A2A"/>
<path d="M210.5,430.5 L213.3,435.3 L207.7,435.3 Z" fill="#EE2A2A"/>
<path d="M256.3,361.8 L259.1,366.6 L253.5,366.6 Z" fill="#EE2A2A"/>
<text x="388.0" y="296.6" font-size="26" text-anchor="start" font-weight="bold" fill="#000"  style="">D</text>
<line x1="430.3" y1="321.4" x2="430.3" y2="503.6" stroke="#333" stroke-width="1.2"/>
<line x1="426.4" y1="500.2" x2="430.3" y2="500.2" stroke="#333" stroke-width="1.1"/>
<text x="419.2" y="504.5" font-size="13" text-anchor="end" font-weight="normal" fill="#222"  style="">0</text>
<line x1="426.4" y1="440.59999999999997" x2="430.3" y2="440.59999999999997" stroke="#333" stroke-width="1.1"/>
<text x="419.2" y="444.9" font-size="13" text-anchor="end" font-weight="normal" fill="#222"  style="">2</text>
<line x1="426.4" y1="381.0" x2="430.3" y2="381.0" stroke="#333" stroke-width="1.1"/>
<text x="419.2" y="385.3" font-size="13" text-anchor="end" font-weight="normal" fill="#222"  style="">4</text>
<line x1="426.4" y1="321.4" x2="430.3" y2="321.4" stroke="#333" stroke-width="1.1"/>
<text x="419.2" y="325.7" font-size="13" text-anchor="end" font-weight="normal" fill="#222"  style="">6</text>
<line x1="426.4" y1="499.5" x2="666.7" y2="499.5" stroke="#333" stroke-width="1.2"/>
<line x1="430.3" y1="499.5" x2="430.3" y2="503.6" stroke="#333" stroke-width="1.1"/>
<text x="430.3" y="519.3" font-size="13" text-anchor="middle" font-weight="normal" fill="#222"  style="">0</text>
<line x1="489.37" y1="499.5" x2="489.37" y2="503.6" stroke="#333" stroke-width="1.1"/>
<text x="489.37" y="519.3" font-size="13" text-anchor="middle" font-weight="normal" fill="#222"  style="">10</text>
<line x1="548.44" y1="499.5" x2="548.44" y2="503.6" stroke="#333" stroke-width="1.1"/>
<text x="548.44" y="519.3" font-size="13" text-anchor="middle" font-weight="normal" fill="#222"  style="">20</text>
<line x1="607.51" y1="499.5" x2="607.51" y2="503.6" stroke="#333" stroke-width="1.1"/>
<text x="607.51" y="519.3" font-size="13" text-anchor="middle" font-weight="normal" fill="#222"  style="">30</text>
<line x1="666.58" y1="499.5" x2="666.58" y2="503.6" stroke="#333" stroke-width="1.1"/>
<text x="666.58" y="519.3" font-size="13" text-anchor="middle" font-weight="normal" fill="#222"  style="">40</text>
<text x="552.4" y="530.4" font-size="15" text-anchor="middle" font-weight="normal" fill="#222" textLength="79.3" lengthAdjust="spacingAndGlyphs"  style="">miRNA level</text>
<text x="0" y="0" font-size="16" text-anchor="middle" fill="#222" transform="translate(404.3,405.6) rotate(-90)" textLength="131.7" lengthAdjust="spacingAndGlyphs">Log virus copies/mg</text>
<circle cx="438.4" cy="301.4" r="1.8" fill="#108010"/>
<circle cx="438.4" cy="320.0" r="1.8" fill="#E81010"/>
<text x="443.8" y="307.1" font-size="16" text-anchor="start" font-weight="normal" fill="#222" textLength="16.2" lengthAdjust="spacingAndGlyphs"  style="">3d</text>
<text x="467.4" y="307.1" font-size="16" text-anchor="start" font-weight="normal" fill="#222" textLength="41.7" lengthAdjust="spacingAndGlyphs"  style="">r=0.76</text>
<text x="516.8" y="307.1" font-size="16" fill="#222" textLength="46.6" lengthAdjust="spacingAndGlyphs"><tspan font-style="italic">P</tspan>&lt;0.01</text>
<text x="571.6" y="307.1" font-size="16" text-anchor="start" font-weight="normal" fill="#222" textLength="33.8" lengthAdjust="spacingAndGlyphs"  style="">n=30</text>
<text x="443.8" y="325.5" font-size="16" text-anchor="start" font-weight="normal" fill="#222" textLength="16.2" lengthAdjust="spacingAndGlyphs"  style="">4d</text>
<text x="467.4" y="325.5" font-size="16" text-anchor="start" font-weight="normal" fill="#222" textLength="41.7" lengthAdjust="spacingAndGlyphs"  style="">r=0.69</text>
<text x="516.8" y="325.5" font-size="16" fill="#222" textLength="46.6" lengthAdjust="spacingAndGlyphs"><tspan font-style="italic">P</tspan>&lt;0.01</text>
<text x="571.6" y="325.5" font-size="16" text-anchor="start" font-weight="normal" fill="#222" textLength="33.8" lengthAdjust="spacingAndGlyphs"  style="">n=30</text>
<circle cx="462.7" cy="407.1" r="2.2" fill="#108010"/>
<circle cx="467.1" cy="403.1" r="2.2" fill="#108010"/>
<circle cx="469.7" cy="411.2" r="2.2" fill="#108010"/>
<circle cx="465.9" cy="415.8" r="2.2" fill="#108010"/>
<circle cx="468.6" cy="423.7" r="2.2" fill="#108010"/>
<circle cx="475.8" cy="407.7" r="2.2" fill="#108010"/>
<circle cx="478.5" cy="413.2" r="2.2" fill="#108010"/>
<circle cx="479.8" cy="406.6" r="2.2" fill="#108010"/>
<circle cx="480.7" cy="402.4" r="2.2" fill="#108010"/>
<circle cx="484.2" cy="403.1" r="2.2" fill="#108010"/>
<circle cx="486.6" cy="401.0" r="2.2" fill="#108010"/>
<circle cx="488.4" cy="407.1" r="2.2" fill="#108010"/>
<circle cx="490.5" cy="408.6" r="2.2" fill="#108010"/>
<circle cx="495.1" cy="404.2" r="2.2" fill="#108010"/>
<circle cx="494.2" cy="397.2" r="2.2" fill="#108010"/>
<circle cx="499.8" cy="399.8" r="2.2" fill="#108010"/>
<circle cx="482.3" cy="390.3" r="2.2" fill="#108010"/>
<circle cx="486.1" cy="390.6" r="2.2" fill="#108010"/>
<circle cx="484.4" cy="385.6" r="2.2" fill="#108010"/>
<circle cx="484.1" cy="380.1" r="2.2" fill="#108010"/>
<circle cx="494.0" cy="383.6" r="2.2" fill="#108010"/>
<circle cx="495.5" cy="388.5" r="2.2" fill="#108010"/>
<circle cx="502.0" cy="389.5" r="2.2" fill="#108010"/>
<circle cx="509.2" cy="389.7" r="2.2" fill="#108010"/>
<circle cx="509.5" cy="378.6" r="2.2" fill="#108010"/>
<circle cx="521.1" cy="385.3" r="2.2" fill="#108010"/>
<circle cx="524.1" cy="375.5" r="2.2" fill="#108010"/>
<circle cx="532.0" cy="366.6" r="2.2" fill="#108010"/>
<circle cx="530.5" cy="387.4" r="2.2" fill="#108010"/>
<circle cx="509.8" cy="384.5" r="2.2" fill="#E81010"/>
<circle cx="521.8" cy="379.5" r="2.2" fill="#E81010"/>
<circle cx="523.4" cy="390.0" r="2.2" fill="#E81010"/>
<circle cx="531.4" cy="389.1" r="2.2" fill="#E81010"/>
<circle cx="533.7" cy="388.8" r="2.2" fill="#E81010"/>
<circle cx="535.5" cy="370.1" r="2.2" fill="#E81010"/>
<circle cx="548.4" cy="378.5" r="2.2" fill="#E81010"/>
<circle cx="548.2" cy="382.0" r="2.2" fill="#E81010"/>
<circle cx="552.3" cy="352.0" r="2.2" fill="#E81010"/>
<circle cx="552.0" cy="369.5" r="2.2" fill="#E81010"/>
<circle cx="557.5" cy="361.0" r="2.2" fill="#E81010"/>
<circle cx="560.1" cy="363.9" r="2.2" fill="#E81010"/>
<circle cx="561.4" cy="368.3" r="2.2" fill="#E81010"/>
<circle cx="563.1" cy="354.8" r="2.2" fill="#E81010"/>
<circle cx="566.6" cy="353.1" r="2.2" fill="#E81010"/>
<circle cx="567.8" cy="366.8" r="2.2" fill="#E81010"/>
<circle cx="566.9" cy="372.6" r="2.2" fill="#E81010"/>
<circle cx="568.0" cy="375.8" r="2.2" fill="#E81010"/>
<circle cx="575.0" cy="370.1" r="2.2" fill="#E81010"/>
<circle cx="575.6" cy="346.1" r="2.2" fill="#E81010"/>
<circle cx="578.0" cy="354.8" r="2.2" fill="#E81010"/>
<circle cx="584.1" cy="351.6" r="2.2" fill="#E81010"/>
<circle cx="584.6" cy="362.1" r="2.2" fill="#E81010"/>
<circle cx="588.8" cy="357.8" r="2.2" fill="#E81010"/>
<circle cx="588.8" cy="379.6" r="2.2" fill="#E81010"/>
<circle cx="598.0" cy="341.4" r="2.2" fill="#E81010"/>
<circle cx="598.0" cy="344.9" r="2.2" fill="#E81010"/>
<circle cx="612.2" cy="352.0" r="2.2" fill="#E81010"/>
<line x1="509.0" y1="388.4" x2="613.0" y2="345.9" stroke="#111" stroke-width="1.8"/>
<line x1="462.3" y1="412.2" x2="532.6" y2="375.1" stroke="#111" stroke-width="1.8"/>
</svg>
</body></html>
